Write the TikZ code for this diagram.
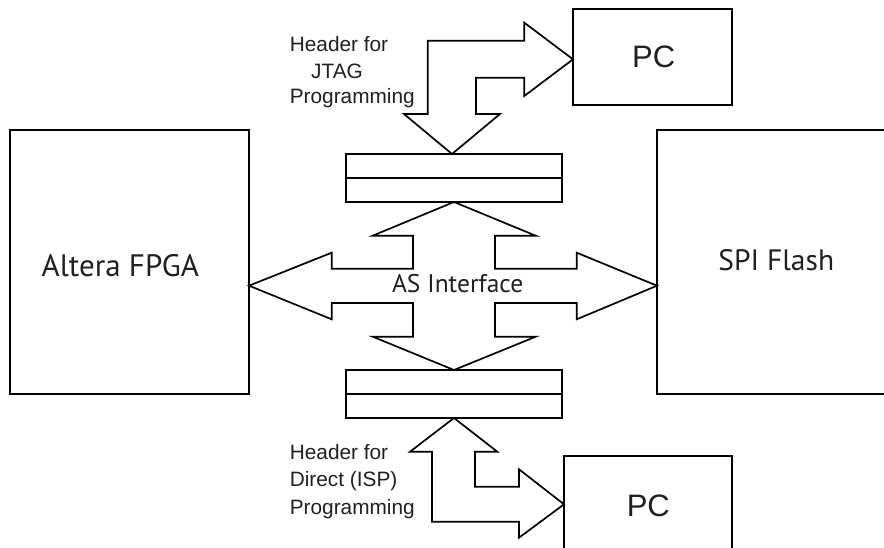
\documentclass[tikz,border=0pt]{standalone}
\usepackage{fontspec}
\setmainfont{Liberation Sans}
\newfontfamily\myriad{PT Sans}
\definecolor{txt}{HTML}{231F20}
\begin{document}
\begin{tikzpicture}[x=1pt,y=-1pt,line width=1.7pt,line join=miter,
  box/.style={draw,rectangle,inner sep=0pt,outer sep=0pt,anchor=north west,line width=1.7pt},
  blockarrow/.style={draw,line width=1.7pt,fill=white,line join=miter},
  big/.style={font=\myriad\fontsize{31}{31}\selectfont,text=txt,inner sep=0pt,anchor=base},
  pcfont/.style={font=\fontsize{31}{31}\selectfont,text=txt,inner sep=0pt,anchor=base},
  lbl/.style={font=\fontsize{20.8}{26}\selectfont,text=txt,inner sep=0pt,anchor=base west}]
\useasboundingbox (0,0) rectangle (884,548);
\fill[white] (0,0) rectangle (884,548);

% boxes
\node[box,minimum width=239pt,minimum height=264pt] (fpga) at (10,130) {};
\node[box,minimum width=240pt,minimum height=264pt] (flash) at (657,130) {};
\node[box,minimum width=159pt,minimum height=96pt] (pc1) at (573,9) {};
\node[box,minimum width=168pt,minimum height=100pt] (pc2) at (564,456) {};
\node[box,minimum width=216pt,minimum height=48pt] (hdr1) at (346,154) {};
\node[box,minimum width=216pt,minimum height=48pt] (hdr2) at (346,370) {};
\draw (hdr1.west) -- (hdr1.east);
\draw (hdr2.west) -- (hdr2.east);

% JTAG arrow (header <-> PC)
\draw[blockarrow] (hdr1.north -| 452,0) -- (500,114) -- (476,114) -- (476,77.7) -- (524.3,77.7)
  -- (524.3,96) -- (pc1.west |- 0,59.3) -- (524.3,22.7) -- (524.3,40.7) -- (427.7,40.7)
  -- (427.7,114) -- (404,114) -- cycle;

% AS interface four-way arrow
\draw[blockarrow] (hdr1.south) -- (535.7,235.7) -- (495,235.7) -- (495,268.7) -- (576.7,268.7)
  -- (576.7,252.7) -- (flash.west |- 0,285.7) -- (576.7,319.3) -- (576.7,303) -- (495,303)
  -- (495,336.7) -- (535.7,336.7) -- (hdr2.north) -- (372.7,336.7) -- (413,336.7)
  -- (413,303) -- (331.7,303) -- (331.7,319.3) -- (fpga.east |- 0,285.7) -- (331.7,252.7)
  -- (331.7,268.7) -- (413,268.7) -- (413,235.7) -- (372.7,235.7) -- cycle;

% ISP arrow (header <-> PC)
\draw[blockarrow] (hdr2.south) -- (497.3,451.7) -- (475,451.7) -- (475,486.7) -- (519,486.7)
  -- (519,469.3) -- (pc2.west |- 0,504.3) -- (519,537.7) -- (519,521.7) -- (432,521.7)
  -- (432,451.7) -- (410,451.7) -- cycle;

% texts
\node[big] (tfpga) at (120.3,276.7) {Altera FPGA};
\node[big,font=\myriad\fontsize{29.5}{29.5}\selectfont] (tflash) at (776.3,271) {SPI Flash};
\node[big,font=\myriad\fontsize{25.5}{25.5}\selectfont] (tas) at (457.7,292.3) {AS Interface};
\node[pcfont] (tpc1) at (653.7,67.7) {PC};
\node[pcfont] (tpc2) at (648.3,516.7) {PC};

\node[lbl] (j1) at (289,51.7) {Header for};
\node[lbl,anchor=base] (j2) at (337,78.3) {JTAG};
\node[lbl] (j3) at (289,103.3) {Programming};

\node[lbl] (i1) at (289,459.3) {Header for};
\node[lbl] (i2) at (289,486.7) {Direct (ISP)};
\node[lbl] (i3) at (289,514) {Programming};
\end{tikzpicture}
\end{document}
